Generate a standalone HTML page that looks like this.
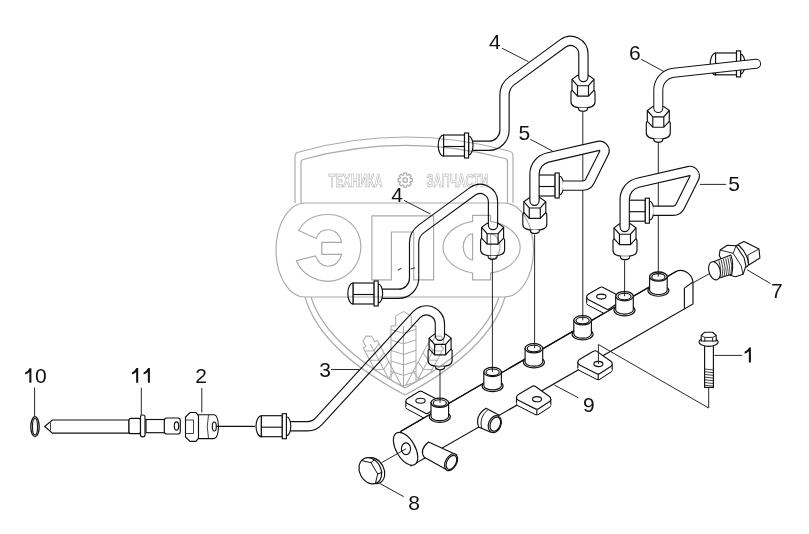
<!DOCTYPE html>
<html><head><meta charset="utf-8"><style>
html,body{margin:0;padding:0;background:#fff;}
svg{display:block;}
svg{font-family:"Liberation Sans",sans-serif;}
.lb{font-size:21px;fill:#111;}
</style></head><body>
<svg width="809" height="534" viewBox="0 0 809 534">

<defs>
<g id="nut" fill="#fff" stroke="#111" stroke-width="1.15">
  <path d="M -11 4 L -5.5 0 L 5.5 0 L 11 4 L 11 14.8 L 12 16.5 L 12 26.5 Q 12 32.5 0 32.5 Q -12 32.5 -12 26.5 L -12 16.5 L -11 14.8 Z"/>
  <path fill="none" d="M -11 4 L -5.5 10.3 L 5.5 10.3 L 11 4 M -5.5 10.3 L -5.5 20.7 L 5.5 20.7 L 5.5 10.3 M -11 14.8 L -5.5 20.7 M 11 14.8 L 5.5 20.7"/>
  <path d="M -4.6 32.3 L -4.3 34 Q -3.5 35.8 0 35.8 Q 3.5 35.8 4.3 34 L 4.6 32.3"/>
</g>
<g id="cap" fill="#fff" stroke="#111" stroke-width="1.15">
  <path d="M -20.9 -10.5 A 5.4 10.5 0 0 0 -20.9 10.5 Z"/>
  <rect x="-20.9" y="-10.5" width="20.9" height="21"/>
  <line x1="-20.9" y1="1" x2="0" y2="1"/>
  <path d="M 4.1 -9.5 A 4.4 9.5 0 0 1 4.1 9.5 Z"/>
  <rect x="0" y="-12.5" width="4.1" height="25"/>
</g>
<g id="cap5" fill="#fff" stroke="#111" stroke-width="1.15">
  <rect x="-20.9" y="-10.5" width="20.9" height="21"/>
  <line x1="-20.9" y1="1" x2="0" y2="1"/>
  <path d="M 4.1 -9.5 A 4.4 9.5 0 0 1 4.1 9.5 Z"/>
  <rect x="0" y="-12.5" width="4.1" height="25"/>
</g>
<g id="boss" fill="#fff" stroke="#111" stroke-width="1.15">
  <ellipse cx="0" cy="14" rx="10.5" ry="5.6"/>
  <path d="M -8.8 0 L -8.8 13.5 A 8.8 4.4 0 0 0 8.8 13.5 L 8.8 0 Z"/>
  <ellipse cx="0" cy="0" rx="8.8" ry="4.6" stroke-width="1.3"/>
  <ellipse cx="0" cy="0.3" rx="6.6" ry="3.3"/>
</g>
<g id="tabCD" stroke-linejoin="round"><path d="M -13.60 -7.70 L -4.98 -12.76 A 3.20 3.20 0 0 1 -1.51 -12.61 L 12.43 -2.74 A 3.20 3.20 0 0 1 12.32 2.57 L 1.54 9.51 A 3.20 3.20 0 0 1 -1.63 9.68 L -18.75 1.05 A 3.20 3.20 0 0 1 -18.93 -4.57 L -13.60 -7.70 Z" transform="translate(0 5.5)" fill="#fff" stroke="#111" stroke-width="1.15"/><path d="M -13.60 -7.70 L -4.98 -12.76 A 3.20 3.20 0 0 1 -1.51 -12.61 L 12.43 -2.74 A 3.20 3.20 0 0 1 12.32 2.57 L 1.54 9.51 A 3.20 3.20 0 0 1 -1.63 9.68 L -18.75 1.05 A 3.20 3.20 0 0 1 -18.93 -4.57 L -13.60 -7.70 Z" transform="translate(0 0.5)" fill="#fff"/><path d="M -13.60 -7.70 L -4.98 -12.76 A 3.20 3.20 0 0 1 -1.51 -12.61 L 12.43 -2.74 A 3.20 3.20 0 0 1 12.32 2.57 L 1.54 9.51 A 3.20 3.20 0 0 1 -1.63 9.68 L -18.75 1.05 A 3.20 3.20 0 0 1 -18.93 -4.57 L -13.60 -7.70 Z" transform="translate(0 1.0)" fill="#fff"/><path d="M -13.60 -7.70 L -4.98 -12.76 A 3.20 3.20 0 0 1 -1.51 -12.61 L 12.43 -2.74 A 3.20 3.20 0 0 1 12.32 2.57 L 1.54 9.51 A 3.20 3.20 0 0 1 -1.63 9.68 L -18.75 1.05 A 3.20 3.20 0 0 1 -18.93 -4.57 L -13.60 -7.70 Z" transform="translate(0 1.5)" fill="#fff"/><path d="M -13.60 -7.70 L -4.98 -12.76 A 3.20 3.20 0 0 1 -1.51 -12.61 L 12.43 -2.74 A 3.20 3.20 0 0 1 12.32 2.57 L 1.54 9.51 A 3.20 3.20 0 0 1 -1.63 9.68 L -18.75 1.05 A 3.20 3.20 0 0 1 -18.93 -4.57 L -13.60 -7.70 Z" transform="translate(0 2.0)" fill="#fff"/><path d="M -13.60 -7.70 L -4.98 -12.76 A 3.20 3.20 0 0 1 -1.51 -12.61 L 12.43 -2.74 A 3.20 3.20 0 0 1 12.32 2.57 L 1.54 9.51 A 3.20 3.20 0 0 1 -1.63 9.68 L -18.75 1.05 A 3.20 3.20 0 0 1 -18.93 -4.57 L -13.60 -7.70 Z" transform="translate(0 2.5)" fill="#fff"/><path d="M -13.60 -7.70 L -4.98 -12.76 A 3.20 3.20 0 0 1 -1.51 -12.61 L 12.43 -2.74 A 3.20 3.20 0 0 1 12.32 2.57 L 1.54 9.51 A 3.20 3.20 0 0 1 -1.63 9.68 L -18.75 1.05 A 3.20 3.20 0 0 1 -18.93 -4.57 L -13.60 -7.70 Z" transform="translate(0 3.0)" fill="#fff"/><path d="M -13.60 -7.70 L -4.98 -12.76 A 3.20 3.20 0 0 1 -1.51 -12.61 L 12.43 -2.74 A 3.20 3.20 0 0 1 12.32 2.57 L 1.54 9.51 A 3.20 3.20 0 0 1 -1.63 9.68 L -18.75 1.05 A 3.20 3.20 0 0 1 -18.93 -4.57 L -13.60 -7.70 Z" transform="translate(0 3.5)" fill="#fff"/><path d="M -13.60 -7.70 L -4.98 -12.76 A 3.20 3.20 0 0 1 -1.51 -12.61 L 12.43 -2.74 A 3.20 3.20 0 0 1 12.32 2.57 L 1.54 9.51 A 3.20 3.20 0 0 1 -1.63 9.68 L -18.75 1.05 A 3.20 3.20 0 0 1 -18.93 -4.57 L -13.60 -7.70 Z" transform="translate(0 4.0)" fill="#fff"/><path d="M -13.60 -7.70 L -4.98 -12.76 A 3.20 3.20 0 0 1 -1.51 -12.61 L 12.43 -2.74 A 3.20 3.20 0 0 1 12.32 2.57 L 1.54 9.51 A 3.20 3.20 0 0 1 -1.63 9.68 L -18.75 1.05 A 3.20 3.20 0 0 1 -18.93 -4.57 L -13.60 -7.70 Z" transform="translate(0 4.5)" fill="#fff"/><path d="M -13.60 -7.70 L -4.98 -12.76 A 3.20 3.20 0 0 1 -1.51 -12.61 L 12.43 -2.74 A 3.20 3.20 0 0 1 12.32 2.57 L 1.54 9.51 A 3.20 3.20 0 0 1 -1.63 9.68 L -18.75 1.05 A 3.20 3.20 0 0 1 -18.93 -4.57 L -13.60 -7.70 Z" transform="translate(0 5.0)" fill="#fff"/><line x1="-20.51" y1="-1.81" x2="-20.51" y2="3.69" stroke="#111" stroke-width="1.1"/><line x1="13.78" y1="-0.12" x2="13.78" y2="5.38" stroke="#111" stroke-width="1.1"/><line x1="-0.19" y1="10.02" x2="-0.19" y2="15.52" stroke="#111" stroke-width="1.1"/><path d="M -13.60 -7.70 L -4.98 -12.76 A 3.20 3.20 0 0 1 -1.51 -12.61 L 12.43 -2.74 A 3.20 3.20 0 0 1 12.32 2.57 L 1.54 9.51 A 3.20 3.20 0 0 1 -1.63 9.68 L -18.75 1.05 A 3.20 3.20 0 0 1 -18.93 -4.57 L -13.60 -7.70 Z" fill="#fff" stroke="#111" stroke-width="1.15"/><ellipse cx="0" cy="0" rx="4.5" ry="2.6" fill="#fff" stroke="#111" stroke-width="1.1"/></g><g id="tabAB" stroke-linejoin="round"><path d="M -8.75 -4.75 L -1.35 -9.19 A 2.80 2.80 0 0 1 1.39 -9.27 L 18.87 -0.16 A 2.80 2.80 0 0 1 19.15 4.64 L 7.90 12.34 A 2.80 2.80 0 0 1 5.00 12.50 L -13.14 2.83 A 2.80 2.80 0 0 1 -13.26 -2.04 L -8.75 -4.75 Z" transform="translate(0 5.5)" fill="#fff" stroke="#111" stroke-width="1.15"/><path d="M -8.75 -4.75 L -1.35 -9.19 A 2.80 2.80 0 0 1 1.39 -9.27 L 18.87 -0.16 A 2.80 2.80 0 0 1 19.15 4.64 L 7.90 12.34 A 2.80 2.80 0 0 1 5.00 12.50 L -13.14 2.83 A 2.80 2.80 0 0 1 -13.26 -2.04 L -8.75 -4.75 Z" transform="translate(0 0.5)" fill="#fff"/><path d="M -8.75 -4.75 L -1.35 -9.19 A 2.80 2.80 0 0 1 1.39 -9.27 L 18.87 -0.16 A 2.80 2.80 0 0 1 19.15 4.64 L 7.90 12.34 A 2.80 2.80 0 0 1 5.00 12.50 L -13.14 2.83 A 2.80 2.80 0 0 1 -13.26 -2.04 L -8.75 -4.75 Z" transform="translate(0 1.0)" fill="#fff"/><path d="M -8.75 -4.75 L -1.35 -9.19 A 2.80 2.80 0 0 1 1.39 -9.27 L 18.87 -0.16 A 2.80 2.80 0 0 1 19.15 4.64 L 7.90 12.34 A 2.80 2.80 0 0 1 5.00 12.50 L -13.14 2.83 A 2.80 2.80 0 0 1 -13.26 -2.04 L -8.75 -4.75 Z" transform="translate(0 1.5)" fill="#fff"/><path d="M -8.75 -4.75 L -1.35 -9.19 A 2.80 2.80 0 0 1 1.39 -9.27 L 18.87 -0.16 A 2.80 2.80 0 0 1 19.15 4.64 L 7.90 12.34 A 2.80 2.80 0 0 1 5.00 12.50 L -13.14 2.83 A 2.80 2.80 0 0 1 -13.26 -2.04 L -8.75 -4.75 Z" transform="translate(0 2.0)" fill="#fff"/><path d="M -8.75 -4.75 L -1.35 -9.19 A 2.80 2.80 0 0 1 1.39 -9.27 L 18.87 -0.16 A 2.80 2.80 0 0 1 19.15 4.64 L 7.90 12.34 A 2.80 2.80 0 0 1 5.00 12.50 L -13.14 2.83 A 2.80 2.80 0 0 1 -13.26 -2.04 L -8.75 -4.75 Z" transform="translate(0 2.5)" fill="#fff"/><path d="M -8.75 -4.75 L -1.35 -9.19 A 2.80 2.80 0 0 1 1.39 -9.27 L 18.87 -0.16 A 2.80 2.80 0 0 1 19.15 4.64 L 7.90 12.34 A 2.80 2.80 0 0 1 5.00 12.50 L -13.14 2.83 A 2.80 2.80 0 0 1 -13.26 -2.04 L -8.75 -4.75 Z" transform="translate(0 3.0)" fill="#fff"/><path d="M -8.75 -4.75 L -1.35 -9.19 A 2.80 2.80 0 0 1 1.39 -9.27 L 18.87 -0.16 A 2.80 2.80 0 0 1 19.15 4.64 L 7.90 12.34 A 2.80 2.80 0 0 1 5.00 12.50 L -13.14 2.83 A 2.80 2.80 0 0 1 -13.26 -2.04 L -8.75 -4.75 Z" transform="translate(0 3.5)" fill="#fff"/><path d="M -8.75 -4.75 L -1.35 -9.19 A 2.80 2.80 0 0 1 1.39 -9.27 L 18.87 -0.16 A 2.80 2.80 0 0 1 19.15 4.64 L 7.90 12.34 A 2.80 2.80 0 0 1 5.00 12.50 L -13.14 2.83 A 2.80 2.80 0 0 1 -13.26 -2.04 L -8.75 -4.75 Z" transform="translate(0 4.0)" fill="#fff"/><path d="M -8.75 -4.75 L -1.35 -9.19 A 2.80 2.80 0 0 1 1.39 -9.27 L 18.87 -0.16 A 2.80 2.80 0 0 1 19.15 4.64 L 7.90 12.34 A 2.80 2.80 0 0 1 5.00 12.50 L -13.14 2.83 A 2.80 2.80 0 0 1 -13.26 -2.04 L -8.75 -4.75 Z" transform="translate(0 4.5)" fill="#fff"/><path d="M -8.75 -4.75 L -1.35 -9.19 A 2.80 2.80 0 0 1 1.39 -9.27 L 18.87 -0.16 A 2.80 2.80 0 0 1 19.15 4.64 L 7.90 12.34 A 2.80 2.80 0 0 1 5.00 12.50 L -13.14 2.83 A 2.80 2.80 0 0 1 -13.26 -2.04 L -8.75 -4.75 Z" transform="translate(0 5.0)" fill="#fff"/><line x1="-14.62" y1="0.36" x2="-14.62" y2="5.86" stroke="#111" stroke-width="1.1"/><line x1="20.37" y1="2.33" x2="20.37" y2="7.83" stroke="#111" stroke-width="1.1"/><path d="M -8.75 -4.75 L -1.35 -9.19 A 2.80 2.80 0 0 1 1.39 -9.27 L 18.87 -0.16 A 2.80 2.80 0 0 1 19.15 4.64 L 7.90 12.34 A 2.80 2.80 0 0 1 5.00 12.50 L -13.14 2.83 A 2.80 2.80 0 0 1 -13.26 -2.04 L -8.75 -4.75 Z" fill="#fff" stroke="#111" stroke-width="1.15"/><ellipse cx="0" cy="0" rx="4.7" ry="2.5" fill="#fff" stroke="#111" stroke-width="1.1"/></g>
</defs>
<line x1="440" y1="370" x2="440" y2="402" stroke="#111" stroke-width="0.9"/>
<line x1="492.4" y1="258.6" x2="492.4" y2="372" stroke="#111" stroke-width="0.9"/>
<line x1="534.6" y1="234.5" x2="534.6" y2="348" stroke="#111" stroke-width="0.9"/>
<line x1="582.8" y1="111" x2="582.8" y2="320" stroke="#111" stroke-width="0.9"/>
<line x1="624.6" y1="260.5" x2="624.6" y2="296" stroke="#111" stroke-width="0.9"/>
<line x1="658.3" y1="142" x2="658.3" y2="276.5" stroke="#111" stroke-width="0.9"/>
<path d="M 400.7 431.4 L 676 271.4 C 684 268 692 274 693 282 L 693 303.9 L 411 466.0 Z" fill="#fff" stroke="#111" stroke-width="1.15"/>
<path d="M 684.4 288.1 L 693 282 M 684.4 288.1 L 684.4 308.8" fill="none" stroke="#111" stroke-width="1.15"/>
<ellipse cx="405.6" cy="448.8" rx="18.2" ry="9.4" transform="rotate(60 405.6 448.8)" fill="#fff" stroke="#111" stroke-width="1.15"/>
<ellipse cx="406" cy="448.8" rx="4.6" ry="5.9" fill="#fff" stroke="#111" stroke-width="1.15"/>
<path d="M 428.5 442 L 456.4 454.7 L 446.6 469.8 L 424.3 457.3 Q 419 450 428.5 442 Z" fill="#fff" stroke="#111" stroke-width="1.15"/>
<ellipse cx="451.1" cy="462.2" rx="9.1" ry="5.6" transform="rotate(-62 451.1 462.2)" fill="#fff" stroke="#111" stroke-width="1.15"/>
<ellipse cx="451.40000000000003" cy="462.4" rx="7.6" ry="4.5" transform="rotate(-62 451.40000000000003 462.4)" fill="none" stroke="#111" stroke-width="1.15"/>
<path d="M 486 408.3 L 498.8 415 L 490.9 432.3 L 478.7 427.1 Q 474.5 416 486 408.3 Z" fill="#fff" stroke="#111" stroke-width="1.15"/>
<path d="M 488.3 409.3 Q 478.8 417 481.6 428.3" fill="none" stroke="#111" stroke-width="0.9"/>
<ellipse cx="494.8" cy="424.1" rx="8.8" ry="6.2" transform="rotate(-68 494.8 424.1)" fill="#fff" stroke="#111" stroke-width="1.15"/>
<ellipse cx="495.3" cy="424.1" rx="7.3" ry="4.9" transform="rotate(-68 495.3 424.1)" fill="none" stroke="#111" stroke-width="1.15"/>
<clipPath id="abv"><path d="M 0 0 L 809 0 L 809 194.1 L 0 664.2 Z"/></clipPath>
<g clip-path="url(#abv)"><use href="#tabAB" x="420.5" y="400.7"/></g>
<g clip-path="url(#abv)"><use href="#tabAB" x="601.3" y="296.6"/></g>
<path d="M 400.7 431.35 L 676 271.40" stroke="#111" stroke-width="1.15" fill="none"/>
<use href="#tabCD" x="537" y="399.2"/>
<use href="#tabCD" x="598.4" y="364"/>
<use href="#boss" x="439.8" y="402.8"/>
<line x1="440" y1="398.8" x2="440" y2="402.8" stroke="#111" stroke-width="0.9"/>
<use href="#boss" x="492.6" y="372"/>
<line x1="492.4" y1="368" x2="492.4" y2="372" stroke="#111" stroke-width="0.9"/>
<use href="#boss" x="533.9" y="348.3"/>
<line x1="534.6" y1="344.3" x2="534.6" y2="348.3" stroke="#111" stroke-width="0.9"/>
<use href="#boss" x="582.6" y="320.3"/>
<line x1="582.8" y1="316.3" x2="582.8" y2="320.3" stroke="#111" stroke-width="0.9"/>
<use href="#boss" x="624.5" y="296.2"/>
<line x1="624.6" y1="292.2" x2="624.6" y2="296.2" stroke="#111" stroke-width="0.9"/>
<use href="#boss" x="658.4" y="276.6"/>
<line x1="658.3" y1="272.6" x2="658.3" y2="276.6" stroke="#111" stroke-width="0.9"/>
<line x1="598.4" y1="364" x2="598.4" y2="344.5" stroke="#111" stroke-width="0.9"/>
<line x1="598.4" y1="344.5" x2="708.7" y2="408" stroke="#111" stroke-width="0.9"/>
<line x1="708.7" y1="387.4" x2="708.7" y2="408" stroke="#111" stroke-width="0.9"/>
<line x1="693.5" y1="282.5" x2="715" y2="270.6" stroke="#111" stroke-width="0.9"/>
<line x1="381.9" y1="462.5" x2="406" y2="448.8" stroke="#111" stroke-width="0.9"/>
<use href="#nut" x="440.1" y="334.1"/>
<path d="M 289.00 426.30 L 307.78 426.30 A 14.60 14.60 0 0 0 318.54 421.57 L 416.45 314.78 A 13.50 13.50 0 0 1 439.90 323.90 L 439.90 335.70" fill="none" stroke="#111" stroke-width="10.4" stroke-linecap="round" stroke-linejoin="round"/>
<path d="M 289.00 426.30 L 307.78 426.30 A 14.60 14.60 0 0 0 318.54 421.57 L 416.45 314.78 A 13.50 13.50 0 0 1 439.90 323.90 L 439.90 335.70" fill="none" stroke="#fff" stroke-width="8.1" stroke-linecap="round" stroke-linejoin="round"/>
<use href="#cap" x="282.3" y="426.2"/>
<use href="#nut" x="583" y="75.4"/>
<path d="M 473.00 145.80 L 489.00 145.80 A 15.50 15.50 0 0 0 504.50 130.30 L 504.50 94.99 A 17.50 17.50 0 0 1 511.68 80.86 L 563.05 43.35 A 12.80 12.80 0 0 1 583.40 53.69 L 583.40 77.00" fill="none" stroke="#111" stroke-width="10.4" stroke-linecap="round" stroke-linejoin="round"/>
<path d="M 473.00 145.80 L 489.00 145.80 A 15.50 15.50 0 0 0 504.50 130.30 L 504.50 94.99 A 17.50 17.50 0 0 1 511.68 80.86 L 563.05 43.35 A 12.80 12.80 0 0 1 583.40 53.69 L 583.40 77.00" fill="none" stroke="#fff" stroke-width="8.1" stroke-linecap="round" stroke-linejoin="round"/>
<use href="#cap" x="464.5" y="145.5"/>
<use href="#nut" x="492.6" y="223.4"/>
<path d="M 382.60 293.80 L 398.60 293.80 A 15.50 15.50 0 0 0 414.10 278.30 L 414.10 242.99 A 17.50 17.50 0 0 1 421.28 228.86 L 472.65 191.35 A 12.80 12.80 0 0 1 493.00 201.69 L 493.00 225.00" fill="none" stroke="#111" stroke-width="10.4" stroke-linecap="round" stroke-linejoin="round"/>
<path d="M 382.60 293.80 L 398.60 293.80 A 15.50 15.50 0 0 0 414.10 278.30 L 414.10 242.99 A 17.50 17.50 0 0 1 421.28 228.86 L 472.65 191.35 A 12.80 12.80 0 0 1 493.00 201.69 L 493.00 225.00" fill="none" stroke="#fff" stroke-width="8.1" stroke-linecap="round" stroke-linejoin="round"/>
<use href="#cap" x="374.1" y="293.5"/>
<path d="M 398 270.3 L 401.3 268.3 M 410.6 269 L 415 267.8" stroke="#444" stroke-width="1.1" fill="none"/>
<use href="#nut" x="534.8" y="197.7"/>
<use href="#cap5" x="555.1" y="185.5"/>
<path d="M 563.00 185.60 L 582.75 185.60 A 8.00 8.00 0 0 0 589.91 181.17 L 603.97 152.98 A 5.00 5.00 0 0 0 598.37 145.88 L 547.68 157.56 A 17.00 17.00 0 0 0 534.50 174.13 L 534.50 199.30" fill="none" stroke="#111" stroke-width="10.4" stroke-linecap="butt" stroke-linejoin="round"/>
<path d="M 563.00 185.60 L 582.75 185.60 A 8.00 8.00 0 0 0 589.91 181.17 L 603.97 152.98 A 5.00 5.00 0 0 0 598.37 145.88 L 547.68 157.56 A 17.00 17.00 0 0 0 534.50 174.13 L 534.50 199.30" fill="none" stroke="#fff" stroke-width="8.1" stroke-linecap="butt" stroke-linejoin="round"/>
<path d="M 529.9 198.3 L 529.9 200.8 A 4.6 4.6 0 0 0 539.1 200.8 L 539.1 198.3" fill="#fff" stroke="#111" stroke-width="1.15"/>
<use href="#nut" x="625.0" y="223.89999999999998"/>
<use href="#cap5" x="645.3000000000001" y="210.7"/>
<path d="M 653.20 210.80 L 672.95 210.80 A 8.00 8.00 0 0 0 680.11 206.37 L 694.17 178.18 A 5.00 5.00 0 0 0 688.57 171.08 L 637.88 182.76 A 17.00 17.00 0 0 0 624.70 199.33 L 624.70 225.50" fill="none" stroke="#111" stroke-width="10.4" stroke-linecap="butt" stroke-linejoin="round"/>
<path d="M 653.20 210.80 L 672.95 210.80 A 8.00 8.00 0 0 0 680.11 206.37 L 694.17 178.18 A 5.00 5.00 0 0 0 688.57 171.08 L 637.88 182.76 A 17.00 17.00 0 0 0 624.70 199.33 L 624.70 225.50" fill="none" stroke="#fff" stroke-width="8.1" stroke-linecap="butt" stroke-linejoin="round"/>
<path d="M 620.1 224.5 L 620.1 227.0 A 4.6 4.6 0 0 0 629.3000000000001 227.0 L 629.3000000000001 224.5" fill="#fff" stroke="#111" stroke-width="1.15"/>
<use href="#nut" x="658.3" y="106.5"/>
<use href="#cap" x="736.5" y="63.9" transform="translate(736.5 63.9) scale(1 1.04) translate(-736.5 -63.9)"/>
<path d="M 658.30 108.10 L 658.30 89.93 A 17.30 17.30 0 0 1 673.74 72.73 L 756.10 63.80" fill="none" stroke="#111" stroke-width="10.0" stroke-linecap="round" stroke-linejoin="round"/>
<path d="M 658.30 108.10 L 658.30 89.93 A 17.30 17.30 0 0 1 673.74 72.73 L 756.10 63.80" fill="none" stroke="#fff" stroke-width="8.0" stroke-linecap="round" stroke-linejoin="round"/>
<ellipse cx="35" cy="426.7" rx="4.2" ry="10" fill="none" stroke="#111" stroke-width="1.3"/>
<ellipse cx="35" cy="426.7" rx="2.5" ry="8.2" fill="none" stroke="#111" stroke-width="1.1"/>
<path d="M 44.7 426.5 L 52.4 420 L 129 420 L 129 433.1 L 52.4 433.1 Z" fill="#fff" stroke="#111" stroke-width="1.15"/>
<path d="M 50.5 422.5 L 50.5 430.5" stroke="#111" stroke-width="0.8"/>
<rect x="129" y="418.3" width="11.5" height="15.4" rx="2" fill="#fff" stroke="#111" stroke-width="1.15"/>
<rect x="146" y="419.5" width="19" height="13.2" fill="#fff" stroke="#111" stroke-width="1.15"/>
<rect x="140.5" y="415" width="4.5" height="21.8" rx="2" fill="#fff" stroke="#111" stroke-width="1.15"/>
<rect x="164.3" y="418" width="16" height="16" rx="2.5" fill="#fff" stroke="#111" stroke-width="1.15"/>
<ellipse cx="176.5" cy="426" rx="2.2" ry="4.2" fill="none" stroke="#111" stroke-width="1.15"/>
<path d="M 197 414.7 L 214 414.7 Q 218 414.7 218.5 426.6 Q 218 438.6 214 438.6 L 197 438.6 Z" fill="#fff" stroke="#111" stroke-width="1.15"/>
<path d="M 208.5 415 Q 206 426.6 208.5 438.3" fill="none" stroke="#111" stroke-width="0.8"/>
<path d="M 190 412.5 L 196 412.5 L 198.5 416 L 198.5 438 L 196 441.3 L 190 441.3 L 185.5 437 L 185.5 417 Z" fill="#fff" stroke="#111" stroke-width="1.15"/>
<path d="M 185.5 420 L 193.5 420 L 193.5 433.5 L 185.5 433.5" fill="none" stroke="#111" stroke-width="0.8"/>
<ellipse cx="214.3" cy="426.5" rx="2" ry="4.5" fill="none" stroke="#111" stroke-width="1.15"/>
<line x1="216" y1="426.3" x2="255" y2="426.3" stroke="#111" stroke-width="1.15"/>
<path d="M 737.9 244.4 L 744 241.4 L 759 249 L 759.9 258 L 748.7 265 L 740 262 Z" fill="#fff" stroke="#111" stroke-width="1.1" stroke-linejoin="round"/>
<path d="M 747.8 255.1 L 759 249 M 747.8 255.1 L 748.7 265" fill="none" stroke="#111" stroke-width="0.9"/>
<path d="M 734.5 246.2 Q 737 244.8 739 245.5 Q 748 254 748.5 264.5 Q 747.5 267 745.5 267.5 Z" fill="#fff" stroke="#111" stroke-width="1.1" stroke-linejoin="round"/>
<path d="M 720.1 250 L 727.2 245.3 L 736 245.8 L 744 257.5 L 745.9 265.9 L 743.1 274.3 L 735.6 276.7 L 730 275.3 L 719.2 255.6 Z" fill="#fff" stroke="#111" stroke-width="1.1" stroke-linejoin="round"/>
<path d="M 720.1 250 L 733.2 253.3 L 736 245.8 M 733.2 253.3 L 741.2 265.9 L 743.1 274.3" fill="none" stroke="#111" stroke-width="0.9"/>
<path d="M 712.2 262.2 L 730.9 255.1 Q 734 264 731.8 274.3 L 715.9 279 Z" fill="#fff" stroke="#111" stroke-width="1.1" stroke-linejoin="round"/>
<path d="M 719.0 260.8 Q 722.2 269.5 719.8 278.2" fill="none" stroke="#111" stroke-width="0.8"/>
<path d="M 721.2 260.0 Q 724.4000000000001 268.7 722.0 277.4" fill="none" stroke="#111" stroke-width="0.8"/>
<path d="M 723.4 259.2 Q 726.6 267.9 724.1999999999999 276.59999999999997" fill="none" stroke="#111" stroke-width="0.8"/>
<path d="M 725.6 258.40000000000003 Q 728.8000000000001 267.1 726.4 275.8" fill="none" stroke="#111" stroke-width="0.8"/>
<path d="M 727.8 257.6 Q 731.0 266.3 728.5999999999999 275.0" fill="none" stroke="#111" stroke-width="0.8"/>
<path d="M 730.0 256.8 Q 733.2 265.5 730.8 274.2" fill="none" stroke="#111" stroke-width="0.8"/>
<ellipse cx="714.5" cy="270.8" rx="5.6" ry="9.3" transform="rotate(-15 714.5 270.8)" fill="#fff" stroke="#111" stroke-width="1.1" stroke-linejoin="round"/>
<rect x="704.6" y="345" width="8.8" height="42.4" fill="#fff" stroke="#111" stroke-width="1.15"/>
<line x1="704.6" y1="369.0" x2="713.4" y2="370.0" stroke="#111" stroke-width="0.8"/>
<line x1="704.6" y1="371.7" x2="713.4" y2="372.7" stroke="#111" stroke-width="0.8"/>
<line x1="704.6" y1="374.4" x2="713.4" y2="375.4" stroke="#111" stroke-width="0.8"/>
<line x1="704.6" y1="377.1" x2="713.4" y2="378.1" stroke="#111" stroke-width="0.8"/>
<line x1="704.6" y1="379.8" x2="713.4" y2="380.8" stroke="#111" stroke-width="0.8"/>
<line x1="704.6" y1="382.5" x2="713.4" y2="383.5" stroke="#111" stroke-width="0.8"/>
<line x1="704.6" y1="385.2" x2="713.4" y2="386.2" stroke="#111" stroke-width="0.8"/>
<ellipse cx="708.6" cy="342" rx="9.6" ry="4.3" fill="#fff" stroke="#111" stroke-width="1.15"/>
<path d="M 701.2 341 L 701.2 335.5 L 704.8 332.2 L 712.6 332.2 L 716.2 335.5 L 716.2 341 Z" fill="#fff" stroke="#111" stroke-width="1.15" stroke-linejoin="round"/>
<path d="M 701.2 335.5 L 704.8 337.4 L 712.6 337.4 L 716.2 335.5 M 704.8 337.4 L 704.8 341.5 M 712.6 337.4 L 712.6 341.5" fill="none" stroke="#111" stroke-width="0.9"/>
<ellipse cx="373.6" cy="470.6" rx="10.3" ry="13.7" transform="rotate(-28 373.6 470.6)" fill="#fff" stroke="#111" stroke-width="1.2"/>
<ellipse cx="370.3" cy="470.8" rx="10.6" ry="13.7" transform="rotate(-28 370.3 470.8)" fill="#fff" stroke="#111" stroke-width="1.2"/>
<path d="M 361.2 460.5 L 371 462.7 L 377.7 474 L 375.4 483.5 M 371 462.7 L 374.7 459.2 M 377.7 474 L 382.4 472.3" fill="none" stroke="#111" stroke-width="1"/>
<text class="lb" x="35.1" y="383">0</text>
<text class="lb" x="195.25" y="382.6">2</text>
<text class="lb" x="319.3" y="376.75">3</text>
<text class="lb" x="489.05" y="48.6">4</text>
<text class="lb" x="391.2" y="201.6">4</text>
<text class="lb" x="518.4" y="139.9">5</text>
<text class="lb" x="728.2" y="190.9">5</text>
<text class="lb" x="629.0" y="59.65">6</text>
<text class="lb" x="771.1" y="297.55">7</text>
<text class="lb" x="583.1" y="411.65">9</text>
<text class="lb" x="408.3" y="509.65">8</text>
<path d="M 31.4 382.8 L 31.4 368.2 L 29.599999999999998 368.2 Q 28.2 371.2 25.099999999999998 372.59999999999997 L 25.099999999999998 374.59999999999997 Q 27.799999999999997 373.59999999999997 29.349999999999998 372.09999999999997 L 29.349999999999998 382.8 Z" fill="#111"/>
<path d="M 138.2 382.7 L 138.2 368.09999999999997 L 136.39999999999998 368.09999999999997 Q 135.0 371.09999999999997 131.89999999999998 372.49999999999994 L 131.89999999999998 374.49999999999994 Q 134.6 373.49999999999994 136.14999999999998 371.99999999999994 L 136.14999999999998 382.7 Z" fill="#111"/>
<path d="M 149.9 382.7 L 149.9 368.09999999999997 L 148.1 368.09999999999997 Q 146.70000000000002 371.09999999999997 143.6 372.49999999999994 L 143.6 374.49999999999994 Q 146.3 373.49999999999994 147.85 371.99999999999994 L 147.85 382.7 Z" fill="#111"/>
<path d="M 750.9 362.4 L 750.9 347.4 L 749.1 347.4 Q 747.6999999999999 350.4 744.6 351.79999999999995 L 744.6 353.79999999999995 Q 747.3 352.79999999999995 748.85 351.29999999999995 L 748.85 362.4 Z" fill="#111"/>
<line x1="34.6" y1="387.5" x2="34.6" y2="416.5" stroke="#111" stroke-width="0.9"/>
<line x1="141.3" y1="387.7" x2="141.3" y2="415" stroke="#111" stroke-width="0.9"/>
<line x1="201.8" y1="388" x2="201.8" y2="412.5" stroke="#111" stroke-width="0.9"/>
<line x1="330.9" y1="369.5" x2="359.4" y2="369.5" stroke="#111" stroke-width="0.9"/>
<line x1="502" y1="48.2" x2="528.4" y2="61.7" stroke="#111" stroke-width="0.9"/>
<line x1="404" y1="200.4" x2="430.4" y2="214" stroke="#111" stroke-width="0.9"/>
<line x1="530.2" y1="139.2" x2="552.5" y2="151" stroke="#111" stroke-width="0.9"/>
<line x1="699.8" y1="184.4" x2="726.1" y2="184.4" stroke="#111" stroke-width="0.9"/>
<line x1="641.1" y1="59.2" x2="664" y2="71.6" stroke="#111" stroke-width="0.9"/>
<line x1="746.9" y1="269.7" x2="770.6" y2="283.6" stroke="#111" stroke-width="0.9"/>
<line x1="714.4" y1="355.4" x2="742" y2="355.4" stroke="#111" stroke-width="0.9"/>
<line x1="578.2" y1="397.7" x2="554.2" y2="385" stroke="#111" stroke-width="0.9"/>
<line x1="379.7" y1="483.4" x2="403.6" y2="496.6" stroke="#111" stroke-width="0.9"/>
<g style="mix-blend-mode:multiply">
<path d="M 295 203 L 295 157 Q 295 152.5 299 152 Q 404 122.6 509 151 Q 513 152 513 156 L 513 203" fill="none" stroke="#a9a9a9" stroke-width="1.15"/>
<path d="M 301 203 L 301 163 Q 301 159.6 304 159.3 Q 404 132 505 158.5 Q 507.5 159 507.5 162 L 507.5 203" fill="none" stroke="#a9a9a9" stroke-width="1.15"/>
<path d="M 305 297 Q 320 350 405 395 Q 490 350 505 297" fill="none" stroke="#a9a9a9" stroke-width="1.15"/>
<path d="M 311 297 Q 326 345 405 388 Q 484 345 499 297" fill="none" stroke="#a9a9a9" stroke-width="1.15"/>
<rect x="276" y="203" width="257.5" height="94" rx="29" ry="47" fill="none" stroke="#a9a9a9" stroke-width="1.15"/>
<path d="M 298.7 230.4 C 305 219 315 214.5 328.2 214.5 C 346 214.5 360.8 228 360.8 246.4 C 360.8 266 346 281.3 328.2 281.3 C 313 281.3 301 272 296.4 260.7 L 315.4 255.9 C 318 262 322 266.2 328.2 266.2 C 335 266.2 340 261 341.7 254.3 L 321.8 254.3 L 321.8 242.4 L 341.7 242.4 C 340 235 335 229.7 328.2 229.7 C 322 229.7 318 233 316.2 238.4 Z" fill="#fff" stroke="#a9a9a9" stroke-width="1.15"/>
<path d="M 371.9 279.8 L 371.9 215.8 L 433.6 215.8 L 433.6 279.8 L 413.7 279.8 L 413.7 232 L 391.4 232 L 391.4 279.8 Z" fill="#fff" stroke="#a9a9a9" stroke-width="1.15"/>
<path d="M 472.6 215.4 L 490.6 215.4 L 490.6 221.43 A 38.6 26.5 0 0 1 490.6 272.97 L 490.6 279.9 L 472.6 279.9 L 472.6 272.97 A 38.6 26.5 0 0 1 472.6 221.43 Z M 472.6 233.7 A 10.3 13.2 0 0 0 472.6 260 Z M 490.6 233.7 A 10.3 13.2 0 0 1 490.6 260 Z" fill-rule="evenodd" fill="#fff" stroke="#a9a9a9" stroke-width="1.15"/>
<text x="328.5" y="187.3" style="font-size:19px;font-weight:bold" fill="#fff" stroke="#a9a9a9" stroke-width="0.7" textLength="54" lengthAdjust="spacingAndGlyphs">ТЕХНИКА</text>
<text x="426.4" y="187.3" style="font-size:19px;font-weight:bold" fill="#fff" stroke="#a9a9a9" stroke-width="0.7" textLength="62" lengthAdjust="spacingAndGlyphs">ЗАПЧАСТИ</text>
<path d="M 412.24 178.60 L 412.24 181.60 L 410.39 181.59 L 409.92 182.72 L 411.24 184.02 L 409.12 186.14 L 407.82 184.82 L 406.69 185.29 L 406.70 187.14 L 403.70 187.14 L 403.71 185.29 L 402.58 184.82 L 401.28 186.14 L 399.16 184.02 L 400.48 182.72 L 400.01 181.59 L 398.16 181.60 L 398.16 178.60 L 400.01 178.61 L 400.48 177.48 L 399.16 176.18 L 401.28 174.06 L 402.58 175.38 L 403.71 174.91 L 403.70 173.06 L 406.70 173.06 L 406.69 174.91 L 407.82 175.38 L 409.12 174.06 L 411.24 176.18 L 409.92 177.48 L 410.39 178.61 Z" fill="none" stroke="#a9a9a9" stroke-width="1.15"/>
<circle cx="405.2" cy="180.1" r="2.3" fill="none" stroke="#a9a9a9" stroke-width="1.15"/>
<clipPath id="shc"><path d="M 311 290 L 311 297 Q 326 345 405 388 Q 484 345 499 297 L 499 290 Z"/></clipPath>
<g clip-path="url(#shc)">
<g transform="translate(403.5 311.5) rotate(0)" fill="none" stroke="#a9a9a9" stroke-width="1"><path d="M -12.5 82 L -12.5 14.4 L -7.8 14.4 L -7.8 13.5 L -7.8 4.5 L -0.0 0.0 L 7.8 4.5 L 7.8 13.5 L 7.8 14.4 L 12.5 14.4 L 12.5 82"/><line x1="0" y1="14.4" x2="0" y2="82"/><path d="M -12.5 17.9 L 0 21.9 L 12.5 17.9"/><path d="M -12.5 28.4 L 0 32.4 L 12.5 28.4"/><path d="M -12.5 38.9 L 0 42.9 L 12.5 38.9"/><path d="M -12.5 49.4 L 0 53.4 L 12.5 49.4"/><path d="M -12.5 59.9 L 0 63.9 L 12.5 59.9"/><path d="M -12.5 70.4 L 0 74.4 L 12.5 70.4"/></g>
<g transform="translate(366 336) rotate(-28)" fill="none" stroke="#a9a9a9" stroke-width="1"><path d="M -8.0 60 L -8.0 9.216 L -5.0 9.216 L -5.0 8.6 L -5.0 2.9 L -0.0 0.0 L 5.0 2.9 L 5.0 8.6 L 5.0 9.216 L 8.0 9.216 L 8.0 60"/><line x1="0" y1="9.216" x2="0" y2="60"/><path d="M -8.0 12.716 L 0 16.716 L 8.0 12.716"/><path d="M -8.0 23.216 L 0 27.216 L 8.0 23.216"/><path d="M -8.0 33.716 L 0 37.716 L 8.0 33.716"/><path d="M -8.0 44.216 L 0 48.216 L 8.0 44.216"/></g>
<g transform="translate(441 336) rotate(28)" fill="none" stroke="#a9a9a9" stroke-width="1"><path d="M -8.0 60 L -8.0 9.216 L -5.0 9.216 L -5.0 8.6 L -5.0 2.9 L -0.0 0.0 L 5.0 2.9 L 5.0 8.6 L 5.0 9.216 L 8.0 9.216 L 8.0 60"/><line x1="0" y1="9.216" x2="0" y2="60"/><path d="M -8.0 12.716 L 0 16.716 L 8.0 12.716"/><path d="M -8.0 23.216 L 0 27.216 L 8.0 23.216"/><path d="M -8.0 33.716 L 0 37.716 L 8.0 33.716"/><path d="M -8.0 44.216 L 0 48.216 L 8.0 44.216"/></g>
</g>
</g>
</svg>
</body></html>
